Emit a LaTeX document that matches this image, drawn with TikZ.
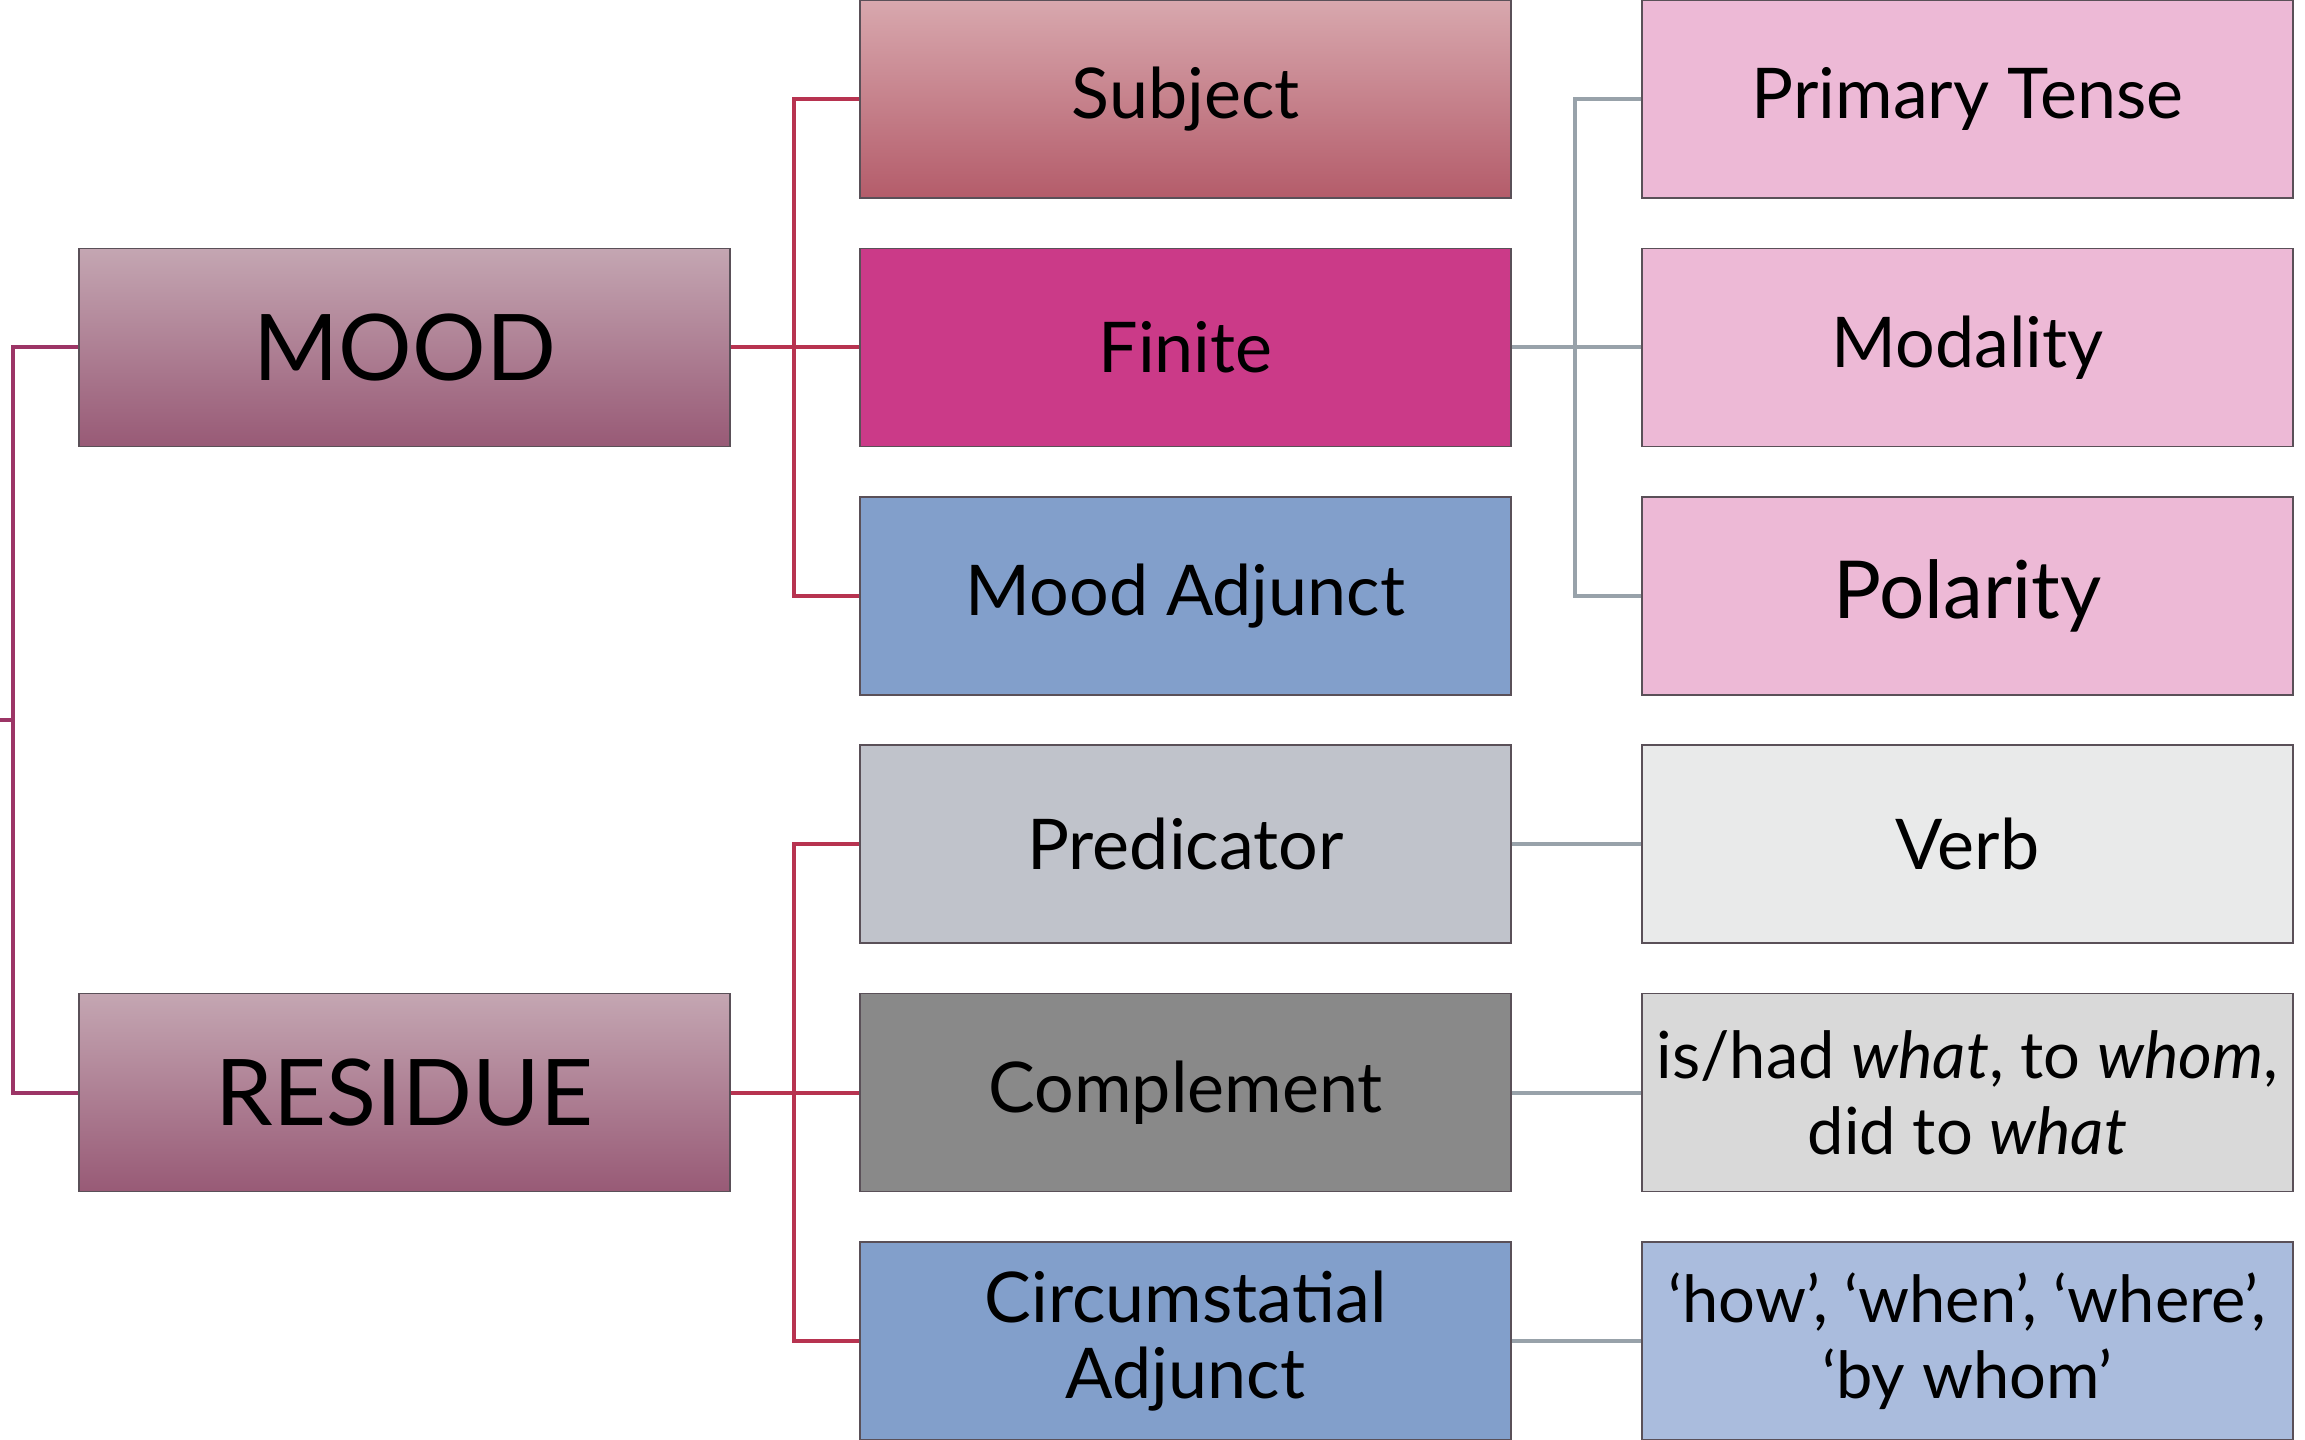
\documentclass[tikz,border=0pt]{standalone}
\usepackage{fontspec}
\setmainfont{Lato}
\usetikzlibrary{positioning}

\definecolor{rootline}{HTML}{9C3566}
\definecolor{redline}{HTML}{B73350}
\definecolor{greyline}{HTML}{98A2AA}
\definecolor{boxedge}{HTML}{5A5058}
\definecolor{moodtop}{HTML}{C4A6B2}
\definecolor{moodbot}{HTML}{985A76}
\definecolor{subjtop}{HTML}{D8A8AE}
\definecolor{subjbot}{HTML}{B45C6A}
\definecolor{finitefill}{HTML}{CB3A88}
\definecolor{adjfill}{HTML}{829FCB}
\definecolor{pinkfill}{HTML}{EDB9D6}
\definecolor{predfill}{HTML}{C0C3CB}
\definecolor{verbfill}{HTML}{E9EAEA}
\definecolor{compfill}{HTML}{898989}
\definecolor{whatfill}{HTML}{D9D9D9}
\definecolor{howfill}{HTML}{AABCDD}

\tikzset{
    box/.style      = {draw=boxedge, line width=1.5pt, minimum width=651pt, minimum height=198pt,
                       inner sep=0pt, align=center, text=black,
                       font=\fontsize{70}{76}\selectfont},
    bigbox/.style   = {box, font=\fontsize{92}{100}\selectfont,
                       top color=moodtop, bottom color=moodbot},
    smalltext/.style = {font=\fontsize{65}{76}\selectfont},
    rootwire/.style = {draw=rootline, line width=4pt},
    redwire/.style  = {draw=redline, line width=4pt},
    greywire/.style = {draw=greyline, line width=4pt},
}

\begin{document}
\begin{tikzpicture}[x=1pt, y=-1pt]
    \useasboundingbox (0,0) rectangle (2305,1440);

    % Left column: the two main parts
    \node[bigbox] (mood)    at (404.5,  347.4) {MOOD};
    \node[bigbox] (residue) at (404.5, 1092.6) {RESIDUE};

    % Middle column: the elements
    \node[box, top color=subjtop, bottom color=subjbot] (subject) at (1185.5,   99.0) {Subject};
    \node[box, fill=finitefill] (finite)    at (1185.5,  347.4) {Finite};
    \node[box, fill=adjfill]   (moodadj)   at (1185.5,  595.8) {Mood Adjunct};
    \node[box, fill=predfill]  (predicator) at (1185.5,  844.2) {Predicator};
    \node[box, fill=compfill]  (complement) at (1185.5, 1092.6) {Complement};
    \node[box, fill=adjfill]   (circadj)   at (1185.5, 1341.0) {Circumstatial\\Adjunct};

    % Right column: what each element carries
    \node[box, fill=pinkfill]  (tense)    at (1967.5,   99.0) {Primary Tense};
    \node[box, fill=pinkfill]  (modality) at (1967.5,  347.4) {Modality};
    \node[box, fill=pinkfill, font=\fontsize{80}{86}\selectfont] (polarity) at (1967.5, 595.8) {Polarity};
    \node[box, fill=verbfill]  (verb)     at (1967.5,  844.2) {Verb};
    \node[box, fill=whatfill, smalltext] (what) at (1967.5, 1092.6) {is/had \textit{what}, to \textit{whom},\\did to \textit{what}};
    \node[box, fill=howfill, smalltext]  (how)  at (1967.5, 1341.0) {‘how’, ‘when’, ‘where’,\\‘by whom’};

    % Root of the tree
    \coordinate (root)     at (0,  720);
    \coordinate (rootknee) at (13, 720);
    \draw[rootwire] (root) -- (rootknee);
    \draw[rootwire] (mood.west) -| (rootknee) |- (residue.west);

    % MOOD branches
    \draw[redwire] (mood.east) -- (finite.west);
    \draw[redwire] (subject.west) -- ++(-65,0) |- (moodadj.west);

    % RESIDUE branches
    \draw[redwire] (residue.east) -- (complement.west);
    \draw[redwire] (predicator.west) -- ++(-65,0) |- (circadj.west);

    % Finite branches
    \draw[greywire] (finite.east) -- (modality.west);
    \draw[greywire] (tense.west) -- ++(-66,0) |- (polarity.west);

    % one-to-one links
    \draw[greywire] (predicator.east) -- (verb.west);
    \draw[greywire] (complement.east) -- (what.west);
    \draw[greywire] (circadj.east)    -- (how.west);
\end{tikzpicture}
\end{document}
